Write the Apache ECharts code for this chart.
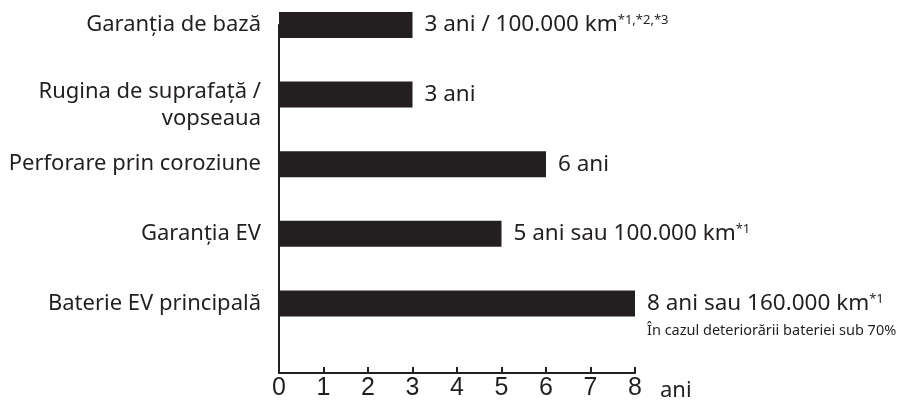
<!DOCTYPE html>
<html><head><meta charset="utf-8">
<script src="https://cdn.jsdelivr.net/npm/echarts@6/dist/echarts.min.js"></script>
<style>html,body{margin:0;padding:0;background:#fff}#c{width:900px;height:404px}</style>
</head><body><div id="c"></div>
<script>
const categories = ['Garanția de bază', 'Rugina de suprafață /\nvopseaua', 'Perforare prin coroziune', 'Garanția EV', 'Baterie EV principală'];
const years = [3, 3, 6, 5, 8];
const mainLabels = ['3 ani / 100.000 km', '3 ani', '6 ani', '5 ani sau 100.000 km', '8 ani sau 160.000 km'];
const footnotes = ['*1,*2,*3', '', '', '*1', '*1'];
const subNotes = ['', '', '', '', 'În cazul deteriorării bateriei sub 70%'];
const xUnit = 'ani';

const INK = '#231f20';
const FONT = 'Noto Sans';

const yData = categories.concat(['']);

const seriesData = years.map((v, i) => {
  let f = '{a|' + mainLabels[i] + '}';
  if (footnotes[i]) f += '{s|' + footnotes[i] + '}';
  const item = {value: v, label: {formatter: f}};
  if (subNotes[i]) {
    item.label.formatter = f + '\n{n|' + subNotes[i] + '}';
    item.label.padding = [28, 0, 0, 0];
  }
  return item;
});

const chart = echarts.init(document.getElementById('c'), null, {renderer: 'canvas'});
chart.setOption({
  animation: false,
  grid: {left: 279, right: 265, top: 25, bottom: 31, containLabel: false},
  xAxis: {
    type: 'value', min: 0, max: 8, interval: 1,
    name: xUnit, nameLocation: 'end', nameGap: 25,
    nameTextStyle: {fontFamily: FONT, fontSize: 22, color: INK, verticalAlign: 'top', padding: [7, 0, 0, 0]},
    axisLine: {show: true, lineStyle: {color: INK, width: 2}},
    axisTick: {show: true, inside: true, length: 6, lineStyle: {color: INK, width: 2}},
    axisLabel: {fontFamily: 'Liberation Sans', fontSize: 25, color: INK, margin: 3},
    splitLine: {show: false}
  },
  yAxis: {
    type: 'category', inverse: true, boundaryGap: false,
    data: yData,
    axisLine: {show: true, lineStyle: {color: INK, width: 2}},
    axisTick: {show: false},
    axisLabel: {
      fontFamily: FONT, fontSize: 22, color: INK, margin: 18,
      formatter: function (v) {
        if (v.indexOf('\n') < 0) return v;
        return '{e| }\n' + v.split('\n').map(s => '{t|' + s + '}').join('\n');
      },
      rich: {
        e: {fontSize: 8, lineHeight: 21},
        t: {fontFamily: FONT, fontSize: 22, color: INK, lineHeight: 27}
      }
    },
    splitLine: {show: false}
  },
  series: [{
    type: 'bar', barWidth: 26, data: seriesData,
    itemStyle: {color: INK},
    label: {
      show: true, position: 'right', distance: 12,
      rich: {
        a: {fontFamily: FONT, fontSize: 22.5, color: INK, lineHeight: 26},
        s: {fontFamily: FONT, fontSize: 13, color: INK, verticalAlign: 'top', lineHeight: 13, padding: [2, 0, 0, 0]},
        n: {fontFamily: FONT, fontSize: 14.5, color: INK, lineHeight: 28}
      }
    }
  }]
});
</script></body></html>
